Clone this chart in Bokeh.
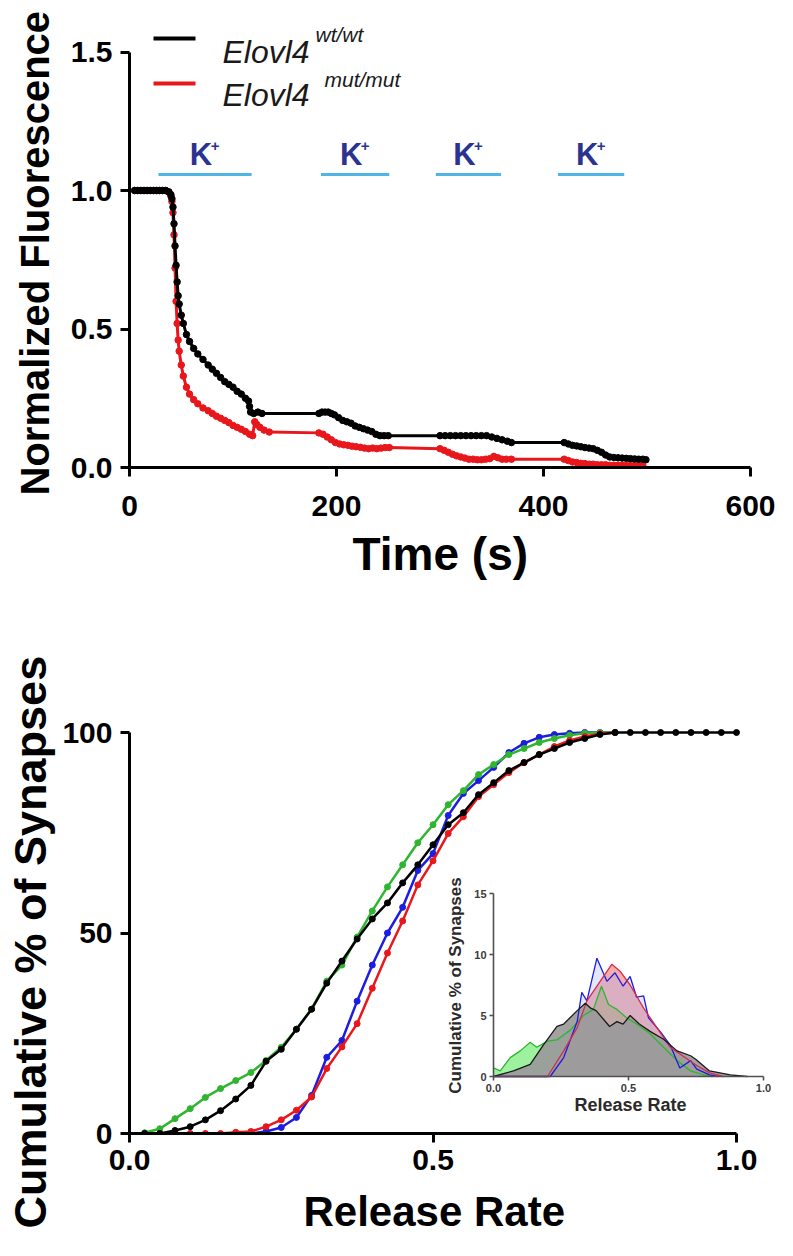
import math
from bokeh.plotting import figure
from bokeh.layouts import column
from bokeh.models import Range1d, Label, FixedTicker, Title
from bokeh.core.properties import value
from bokeh.embed import file_html
from bokeh.resources import INLINE

# ------------------------------------------------------------------ data
# Top panel: normalized FM dye fluorescence vs time (s)
time_wt = [5, 8, 11, 14, 17, 20, 23, 26, 29, 32, 35, 38, 40, 41, 42, 43, 44, 45, 46, 47, 48,
           50, 52, 55, 58, 62, 66, 71, 76, 80, 84, 88, 92, 96, 100, 104, 108, 112, 115, 116, 117,
           120, 124, 128,
           183, 186, 189, 192, 195, 198, 202, 206, 210, 214, 218, 222, 226, 230, 234, 238, 242, 246, 250,
           300, 305, 310, 315, 320, 325, 330, 335, 340, 345, 350, 355, 360, 365, 369,
           420, 424, 428, 432, 436, 440, 444, 448, 452, 456, 460, 464, 468, 472, 476, 480, 484, 488,
           492, 496, 499]
fluor_wt = [1, 1, 1, 1, 1, 1, 1, 1, 1, 1, 1, 0.995, 0.985, 0.97, 0.94, 0.88, 0.8, 0.73, 0.67, 0.62, 0.59,
            0.55, 0.52, 0.48, 0.455, 0.43, 0.41, 0.39, 0.37, 0.355, 0.34, 0.325, 0.31, 0.3, 0.29, 0.275,
            0.265, 0.25, 0.24, 0.22, 0.2, 0.195, 0.2, 0.195,
            0.195, 0.2, 0.2, 0.2, 0.195, 0.19, 0.18, 0.17, 0.165, 0.16, 0.15, 0.145, 0.14, 0.135, 0.13,
            0.12, 0.115, 0.115, 0.115,
            0.115, 0.115, 0.115, 0.115, 0.115, 0.115, 0.115, 0.115, 0.115, 0.115, 0.11, 0.105, 0.1,
            0.095, 0.09,
            0.09, 0.085, 0.08, 0.078, 0.075, 0.072, 0.07, 0.068, 0.062, 0.055, 0.045, 0.038, 0.036,
            0.035, 0.034, 0.033, 0.032, 0.031, 0.03, 0.03, 0.028]

time_mut = [5, 8, 11, 14, 17, 20, 23, 26, 29, 32, 35, 38, 40, 41, 42, 43, 44, 45, 46, 47, 48,
            50, 52, 55, 58, 62, 66, 71, 76, 80, 84, 88, 92, 96, 100, 104, 108, 112, 116, 119, 121,
            123, 126, 130, 135,
            183, 187, 191, 195, 199, 203, 207, 211, 215, 219, 223, 227, 231, 235, 239, 243, 247, 251,
            300, 304, 308, 312, 316, 320, 324, 328, 332, 336, 340, 344, 348, 352, 356, 360, 364, 369,
            420, 424, 428, 432, 436, 440, 444, 448, 452, 456, 460, 464, 468, 472, 476, 480, 484, 488,
            492, 496]
fluor_mut = [1, 1, 1, 1, 1, 1, 1, 1, 1, 1, 1, 0.995, 0.98, 0.96, 0.92, 0.84, 0.72, 0.6, 0.52, 0.46, 0.42,
             0.37, 0.33, 0.29, 0.265, 0.245, 0.23, 0.215, 0.205, 0.195, 0.185, 0.178, 0.17, 0.162,
             0.152, 0.145, 0.138, 0.13, 0.12, 0.115, 0.165, 0.155, 0.145, 0.135, 0.128,
             0.125, 0.12, 0.11, 0.1, 0.09, 0.085, 0.082, 0.08, 0.077, 0.075, 0.073, 0.07, 0.068, 0.07,
             0.068, 0.07, 0.072, 0.072,
             0.068, 0.062, 0.055, 0.048, 0.042, 0.038, 0.034, 0.03, 0.03, 0.028, 0.028, 0.03, 0.032,
             0.04, 0.035, 0.03, 0.03, 0.03,
             0.03, 0.025, 0.02, 0.018, 0.015, 0.014, 0.012, 0.012, 0.01, 0.01, 0.01, 0.008, 0.008,
             0.008, 0.008, 0.007, 0.007, 0.007, 0.007, 0.007]

# K+ stimulation windows (s)
k_start = [28, 185, 296, 414]
k_end = [118, 251, 359, 478]

legend_names = ["Elovl4", "Elovl4"]
legend_sups = ["wt/wt", "mut/mut"]

top_x_ticks = [0, 200, 400, 600]
top_y_ticks = [0, 0.5, 1.0, 1.5]

# Bottom panel: cumulative % of synapses vs release rate
rate_bins = [0.025, 0.05, 0.075, 0.1, 0.125, 0.15, 0.175, 0.2, 0.225, 0.25, 0.275, 0.3, 0.325, 0.35,
             0.375, 0.4, 0.425, 0.45, 0.475, 0.5, 0.525, 0.55, 0.575, 0.6, 0.625, 0.65, 0.675, 0.7,
             0.725, 0.75, 0.775, 0.8, 0.825, 0.85, 0.875, 0.9, 0.925, 0.95, 0.975, 1.0]
cum_black = [0, 0, 0.75, 1.7, 3.4, 5.7, 8.6, 12, 18, 21, 26, 31, 37.5, 43, 48.5, 53.5, 57.5, 62.5, 67,
             72, 77, 80, 84.5, 87.5, 90.5, 92.5, 94.5, 96, 97.5, 98.5, 99.5, 100, 100, 100, 100, 100,
             100, 100, 100, 100]
rate_green = rate_bins[0:32]
cum_green = [0.2, 1.2, 3.7, 6.2, 9, 11.2, 13.2, 15.2, 18.2, 21.5, 26, 31, 38, 42, 49, 55.5, 61.5, 67,
             72.5, 77, 82, 85.5, 89.5, 92, 94.5, 96, 97.5, 98.5, 99.3, 99.8, 100, 100]
rate_blue = rate_bins[6:32]
cum_blue = [0, 0, 0.5, 1.5, 4, 9.5, 19, 23.2, 33, 42, 50, 56.4, 65.6, 69.8, 79.3, 84.8, 88, 91.3, 95,
            97.3, 98.8, 99.5, 99.8, 100, 100, 100]
rate_red = rate_bins[1:32]
cum_red = [0, 0, 0, 0, 0, 0.3, 0.5, 1.7, 3.4, 5.8, 9.1, 16.2, 21.6, 27.4, 36.2, 45, 53, 62, 68, 74.8,
           79, 84, 87, 90, 92.5, 94.5, 96.5, 98, 99, 99.7, 100]

bot_x_ticks = [0, 0.5, 1.0]
bot_y_ticks = [0, 50, 100]

# Inset: distributions
hist_black_x = [0.0, 0.074, 0.136, 0.185, 0.235, 0.26, 0.31, 0.34, 0.36, 0.38, 0.43, 0.457, 0.48,
                0.506, 0.54, 0.58, 0.63, 0.68, 0.73, 0.75, 0.80, 0.877, 0.94]
hist_black_y = [0, 0.46, 1.0, 2.6, 4.1, 4.3, 5.4, 6.0, 5.6, 5.4, 4.1, 4.5, 4.3, 5.0, 4.3, 3.7, 3.05,
                2.1, 1.7, 1.4, 0.46, 0.14, 0]
hist_green_x = [0.0, 0.025, 0.062, 0.099, 0.136, 0.16, 0.2, 0.235, 0.284, 0.333, 0.37, 0.40, 0.426,
                0.457, 0.494, 0.53, 0.58, 0.63, 0.68, 0.73, 0.78, 0.81]
hist_green_y = [0.7, 0.46, 1.55, 2.1, 2.8, 2.4, 2.9, 3.0, 3.8, 5.0, 5.5, 7.4, 5.9, 5.5, 4.8, 4.3, 3.5,
                2.4, 1.3, 0.46, 0.14, 0]
hist_blue_x = [0.0, 0.21, 0.26, 0.31, 0.327, 0.346, 0.383, 0.42, 0.45, 0.48, 0.506, 0.53, 0.556,
               0.574, 0.617, 0.654, 0.69, 0.73, 0.753, 0.80, 0.83]
hist_blue_y = [0, 0, 1.55, 4.5, 6.9, 6.2, 9.7, 7.8, 8.5, 7.4, 8.2, 6.5, 6.6, 4.8, 3.7, 2.6, 0.7, 1.3,
               0.6, 0.14, 0]
hist_red_x = [0.0, 0.2, 0.26, 0.31, 0.346, 0.395, 0.438, 0.47, 0.506, 0.556, 0.605, 0.654, 0.70,
              0.753, 0.80, 0.85]
hist_red_y = [0, 0, 2.1, 4.0, 6.2, 7.8, 9.2, 8.6, 7.5, 5.6, 4.0, 2.4, 1.7, 0.9, 0.3, 0]

inset_x_ticks = [0.0, 0.5, 1.0]
inset_x_labels = ["0.0", "0.5", "1.0"]
inset_y_ticks = [0, 5, 10, 15]
inset_y_labels = ["0", "5", "10", "15"]

# ------------------------------------------------------------------ style / layout
FONT = "Liberation Sans"
BLACK = "#000000"
RED = "#e8171c"
GREEN = "#2fb52f"
BLUE = "#1d1de0"
NAVY = "#2b3390"
KBAR = "#4fb5e5"

PAGE_W = 785
TOP_H = 604
BOT_H = 648
RIGHT = 772.0
LEFT = 129.0          # shared frame left edge (column aligns frames)

# top panel geometry (page px)
T_X0, T_SX, T_Y0, T_SY, T_TOP = LEFT, 1.035, 467.0, 277.0, 16.0
# bottom panel geometry
B_X0, B_SX, B_Y0, B_SY, B_TOP = LEFT, 607.0, 1133.0, 4.01, 700.0
B_FIG_TOP = TOP_H
# inset geometry
I_X0, I_SX, I_Y0, I_SY = 493.0, 270.0, 1076.0, 12.2


def tx(px):
    return (px - T_X0) / T_SX


def ty(py):
    return (T_Y0 - py) / T_SY


def ix(px):
    return (px - I_X0) / I_SX


def iy(py):
    return (I_Y0 - py) / I_SY


def style_axes(p, xb, yb, xt, yt, xfmt, yfmt, xstand):
    for ax in (p.xaxis[0], p.yaxis[0]):
        ax.axis_line_width = 3
        ax.axis_line_color = "black"
        ax.major_tick_line_width = 3
        ax.major_tick_line_color = "black"
        ax.major_tick_out = 9
        ax.major_tick_in = 0
        ax.minor_tick_line_color = None
        ax.major_label_text_font = FONT
        ax.major_label_text_font_style = "bold"
        ax.major_label_text_font_size = "30px"
        ax.major_label_text_color = "black"
    p.xaxis[0].bounds = xb
    p.yaxis[0].bounds = yb
    p.xaxis[0].ticker = FixedTicker(ticks=xt)
    p.yaxis[0].ticker = FixedTicker(ticks=yt)
    p.xaxis[0].major_label_overrides = {t: xfmt(t) for t in xt}
    p.yaxis[0].major_label_overrides = {t: yfmt(t) for t in yt}
    p.xaxis[0].major_label_standoff = xstand
    p.yaxis[0].major_label_standoff = 8
    p.xgrid.grid_line_color = None
    p.ygrid.grid_line_color = None
    p.outline_line_color = None
    p.background_fill_color = "white"
    p.border_fill_color = "white"


def add_label(p, x, y, text, size, style="bold", angle=0.0, color="black", align="center",
              baseline="middle", x_range_name="default", y_range_name="default"):
    p.add_layout(Label(x=x, y=y, text=text, text_font=FONT, text_font_size=size,
                       text_font_style=style, text_color=color, text_align=align,
                       text_baseline=baseline, angle=angle, angle_units="rad",
                       x_range_name=x_range_name, y_range_name=y_range_name))


def add_title(p, side, text, size, offset, standoff):
    p.add_layout(Title(text=text, align="left", offset=offset, vertical_align="middle",
                       standoff=standoff, text_font=FONT, text_font_size=size,
                       text_font_style="bold", text_color="black"), side)


# ------------------------------------------------------------------ top figure
p1 = figure(width=PAGE_W, height=TOP_H, output_backend="svg", toolbar_location=None,
            x_range=Range1d(0, tx(RIGHT)), y_range=Range1d(0, ty(T_TOP)),
            min_border_left=int(T_X0), min_border_right=int(PAGE_W - RIGHT),
            min_border_top=int(T_TOP), min_border_bottom=int(TOP_H - T_Y0))
style_axes(p1, (0, 600), (0, 1.5), top_x_ticks, top_y_ticks,
           lambda t: "%d" % t, lambda t: "%.1f" % t, 19)

p1.line(time_mut, fluor_mut, line_color=RED, line_width=3)
p1.scatter(time_mut, fluor_mut, size=6.5, fill_color=RED, line_color=RED)
p1.line(time_wt, fluor_wt, line_color=BLACK, line_width=3)
p1.scatter(time_wt, fluor_wt, size=6.5, fill_color=BLACK, line_color=BLACK)

# K+ bars and labels
kbar_y = ty(174)
k_mid = [(a + b) / 2.0 for a, b in zip(k_start, k_end)]
p1.segment(x0=k_start, x1=k_end, y0=kbar_y, y1=kbar_y, line_color=KBAR, line_width=3)
p1.text(x=[m - 4 / T_SX for m in k_mid], y=ty(154), text=["K"] * len(k_mid),
        text_font=value(FONT), text_font_style="bold", text_font_size="31px",
        text_color=NAVY, text_align="center", text_baseline="middle")
p1.text(x=[m + 10 / T_SX for m in k_mid], y=ty(145), text=["+"] * len(k_mid),
        text_font=value(FONT), text_font_style="bold", text_font_size="15px",
        text_color=NAVY, text_align="center", text_baseline="middle")

# legend
leg_line_y = [ty(38), ty(83)]
p1.segment(x0=[tx(153)] * 2, x1=[tx(195)] * 2, y0=leg_line_y, y1=leg_line_y,
           line_color=[BLACK, RED], line_width=4)
add_label(p1, tx(222), ty(51), legend_names[0], "32px", style="italic", color="#1a1a1a",
          align="left")
add_label(p1, tx(315), ty(34), legend_sups[0], "21px", style="italic", color="#1a1a1a",
          align="left")
add_label(p1, tx(222), ty(94), legend_names[1], "32px", style="italic", color="#1a1a1a",
          align="left")
add_label(p1, tx(324), ty(79), legend_sups[1], "21px", style="italic", color="#1a1a1a",
          align="left")

# axis titles (offset = start of text measured from the frame's bottom / left edge)
add_title(p1, "left", "Normalized Fluorescence", "40px", offset=-28, standoff=20)
add_title(p1, "below", "Time (s)", "46px", offset=223, standoff=16)

# ------------------------------------------------------------------ bottom figure
p2 = figure(width=PAGE_W, height=BOT_H, output_backend="svg", toolbar_location=None,
            x_range=Range1d(0, (RIGHT - B_X0) / B_SX), y_range=Range1d(0, (B_Y0 - B_TOP) / B_SY),
            min_border_left=int(B_X0), min_border_right=int(PAGE_W - RIGHT),
            min_border_top=int(B_TOP - B_FIG_TOP), min_border_bottom=int(B_FIG_TOP + BOT_H - B_Y0))
style_axes(p2, (0, 1.0), (0, 100), bot_x_ticks, bot_y_ticks,
           lambda t: "%.1f" % t, lambda t: "%d" % t, 7)

p2.extra_x_ranges = {"ix": Range1d(ix(B_X0), ix(RIGHT))}
p2.extra_y_ranges = {"iy": Range1d(iy(B_Y0), iy(B_TOP))}
IR = dict(x_range_name="ix", y_range_name="iy")

# inset fills
p2.varea(x=hist_green_x, y1=0, y2=hist_green_y, fill_color="#5ee85e", fill_alpha=0.6, **IR)
p2.varea(x=hist_red_x, y1=0, y2=hist_red_y, fill_color="#f27474", fill_alpha=0.6, **IR)
p2.varea(x=hist_blue_x, y1=0, y2=hist_blue_y, fill_color="#9fb2f2", fill_alpha=0.3, **IR)
p2.varea(x=hist_black_x, y1=0, y2=hist_black_y, fill_color="#9a9a9a", fill_alpha=0.92, **IR)
# inset outlines
p2.line(hist_green_x, hist_green_y, line_color=GREEN, line_width=1.3, **IR)
p2.line(hist_blue_x, hist_blue_y, line_color=BLUE, line_width=1.3, **IR)
p2.line(hist_red_x, hist_red_y, line_color="#d62a50", line_width=1.3, **IR)
p2.line(hist_black_x, hist_black_y, line_color="#1a1a1a", line_width=1.3, **IR)

# inset axes
AX_GRAY = "#505050"
p2.segment(x0=[0, 0], y0=[0, 0], x1=[0, inset_x_ticks[-1]], y1=[inset_y_ticks[-1], 0],
           line_color=AX_GRAY, line_width=1.6, **IR)
p2.segment(x0=[0] * len(inset_y_ticks), x1=[-4 / I_SX] * len(inset_y_ticks),
           y0=inset_y_ticks, y1=inset_y_ticks, line_color=AX_GRAY, line_width=1.6, **IR)
p2.segment(x0=inset_x_ticks, x1=inset_x_ticks, y0=[0] * len(inset_x_ticks),
           y1=[-4 / I_SY] * len(inset_x_ticks), line_color=AX_GRAY, line_width=1.6, **IR)
p2.text(x=[-7 / I_SX] * len(inset_y_ticks), y=inset_y_ticks, text=inset_y_labels,
        text_font=value(FONT), text_font_style="bold", text_font_size="11px",
        text_color="#3a3a3a", text_align="right", text_baseline="middle", **IR)
p2.text(x=inset_x_ticks, y=[-7 / I_SY] * len(inset_x_ticks), text=inset_x_labels,
        text_font=value(FONT), text_font_style="bold", text_font_size="11px",
        text_color="#3a3a3a", text_align="center", text_baseline="top", **IR)
add_label(p2, ix(455), iy(985), "Cumulative % of Synapses", "17px", angle=math.pi / 2,
          color="#2a2a2a", **IR)
add_label(p2, ix(630), iy(1104), "Release Rate", "18px", color="#2a2a2a", **IR)

# main cumulative curves
for xs, ys, col in ((rate_blue, cum_blue, BLUE), (rate_green, cum_green, GREEN),
                    (rate_red, cum_red, RED), (rate_bins, cum_black, BLACK)):
    p2.line(xs, ys, line_color=col, line_width=2.5)
    p2.scatter(xs, ys, size=6, fill_color=col, line_color=col)

add_title(p2, "left", "Cumulative % of Synapses", "45px", offset=-95, standoff=6)
add_title(p2, "below", "Release Rate", "42px", offset=174, standoff=29)

layout = column(p1, p2, spacing=0)
open("out.html", "w").write(file_html(layout, INLINE))
